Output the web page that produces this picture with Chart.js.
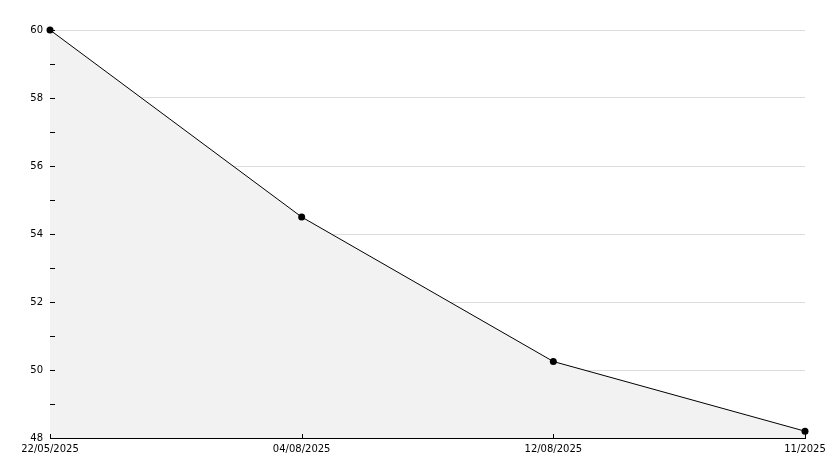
<!DOCTYPE html>
<html>
<head>
<meta charset="utf-8">
<script src="https://cdn.jsdelivr.net/npm/chart.js@4"></script>
<style>
html,body{margin:0;padding:0;background:#fff;}
#wrap{width:834px;height:468px;}
</style>
</head>
<body>
<div id="wrap"><canvas id="lineC"></canvas></div>
<script>
const dates=["22/05/2025","04/08/2025","12/08/2025","11/2025"];
const values=[60,54.5,50.25,48.2];
const yMin=48;
const yMax=60;

// short inward tick marks on both axes
const innerTicks={
    id:"innerTicks",
    afterDatasetsDraw(chart){
        const ctx=chart.ctx;
        const x=chart.scales.x, y=chart.scales.y;
        ctx.save();
        ctx.strokeStyle="#000";
        ctx.lineWidth=1;
        ctx.beginPath();
        y.ticks.forEach(t=>{
            let py=Math.round(y.getPixelForValue(t.value))+0.5;
            ctx.moveTo(y.right,py);
            ctx.lineTo(y.right+5,py);
        });
        x.ticks.forEach((t,i)=>{
            let px=Math.round(x.getPixelForTick(i))+0.5;
            ctx.moveTo(px,x.top);
            ctx.lineTo(px,x.top-4);
        });
        ctx.stroke();
        ctx.restore();
    }
};

var lineChart=new Chart(document.getElementById("lineC"),{
    type:"line",
    data:{
        labels:dates,
        datasets:[{
            data:values,
            borderColor:"#000",
            borderWidth:1,
            backgroundColor:"#f2f2f2",
            fill:"start",
            tension:0,
            clip:false,
            pointRadius:3.5,
            pointBackgroundColor:"#000",
            pointBorderColor:"#000",
            pointBorderWidth:0
        }]
    },
    options:{
        responsive:true,
        maintainAspectRatio:false,
        animation:false,
        layout:{padding:{left:0,right:29,top:30,bottom:0}},
        plugins:{legend:{display:false},tooltip:{enabled:false}},
        scales:{
            x:{
                offset:false,
                grid:{display:true,drawOnChartArea:false,drawTicks:false},
                border:{color:"#000",width:1},
                ticks:{color:"#000",font:{family:"DejaVu Sans",size:10},padding:5,maxRotation:0,autoSkip:false},
                afterFit(s){s.height=30;}
            },
            y:{
                min:yMin,
                max:yMax,
                grid:{
                    drawTicks:false,
                    color:(c)=>(c.tick && c.tick.value%2===0 && c.tick.value!==yMin)?"#dddddd":"rgba(0,0,0,0)"
                },
                border:{color:"#000",width:1},
                ticks:{
                    stepSize:1,
                    color:"#000",
                    font:{family:"DejaVu Sans",size:10},
                    padding:7,
                    callback:(v)=>v%2===0?v:""
                },
                afterFit(s){s.width=50;}
            }
        }
    },
    plugins:[innerTicks]
});
</script>
</body>
</html>
